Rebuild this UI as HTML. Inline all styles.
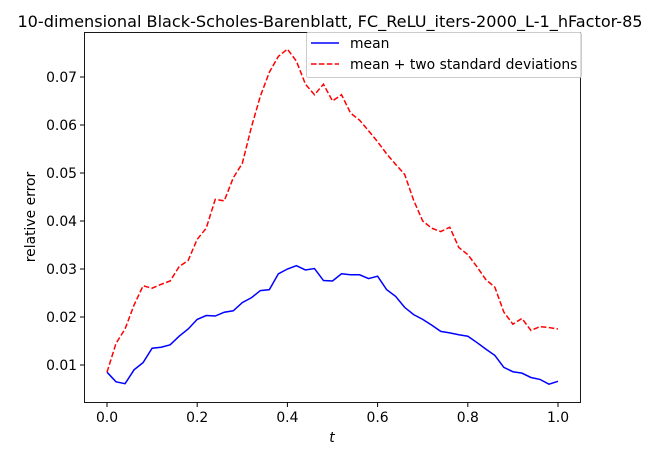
<!DOCTYPE html>
<html><head><meta charset="utf-8"><style>
html,body{margin:0;padding:0;background:#fff;}
svg text{font-family:"DejaVu Sans","Liberation Sans",sans-serif;fill:#000;}
</style></head><body>
<svg id="chart" width="664" height="455" xmlns="http://www.w3.org/2000/svg">
<text x="330" y="27" text-anchor="middle" font-size="16.1">10-dimensional Black-Scholes-Barenblatt, FC_ReLU_iters-2000_L-1_hFactor-85</text>
<path id="meanLine" fill="none" stroke="#0000ff" stroke-width="1.5"/>
<path id="upperLine" fill="none" stroke="#ff0000" stroke-width="1.5" stroke-dasharray="5.5,2.4"/>
<rect x="84.5" y="32.5" width="496" height="370" fill="none" stroke="#000" stroke-width="0.9"/>
<g id="ticks"></g>
<text x="332" y="442" text-anchor="middle" font-size="13.9" font-style="italic">t</text>
<text transform="translate(35,217) rotate(-90)" text-anchor="middle" font-size="13.9">relative error</text>
<g>
<rect x="306.5" y="32.5" width="275" height="45" rx="2" fill="#fff" fill-opacity="0.85" stroke="#ccc"/>
<line x1="311" y1="43" x2="339" y2="43" stroke="#0000ff" stroke-width="1.5"/>
<text x="350" y="48" font-size="13.9">mean</text>
<line x1="311" y1="64" x2="339" y2="64" stroke="#ff0000" stroke-width="1.5" stroke-dasharray="5.5,2.4"/>
<text x="350" y="69" font-size="13.9">mean + two standard deviations</text>
</g>
</svg>
<script>
const tValues = Array.from({length:51},(_, i)=>i*0.02);
const meanValues = [0.0085,0.0065,0.0061,0.009,0.0105,0.0135,0.0137,0.0142,0.016,0.0175,0.0195,0.0203,0.0202,0.021,0.0213,0.023,0.024,0.0255,0.0257,0.029,0.030,0.0307,0.0298,0.0301,0.0276,0.0275,0.029,0.0288,0.0288,0.028,0.0285,0.0257,0.0243,0.022,0.0205,0.0195,0.0183,0.017,0.0167,0.0163,0.016,0.0147,0.0133,0.012,0.0095,0.0086,0.0083,0.0074,0.007,0.006,0.0066];
const upperValues = [0.0085,0.0145,0.0175,0.0225,0.0265,0.026,0.0268,0.0275,0.0305,0.0318,0.0362,0.0385,0.0445,0.0442,0.049,0.052,0.0595,0.066,0.071,0.0743,0.0758,0.0733,0.0685,0.0663,0.0685,0.065,0.0663,0.0625,0.061,0.0588,0.0565,0.054,0.0518,0.0497,0.0443,0.040,0.0385,0.0378,0.0387,0.0345,0.033,0.0305,0.0278,0.0262,0.021,0.0185,0.0197,0.0172,0.018,0.0178,0.0175];
const xTicks = [0,0.2,0.4,0.6,0.8,1.0];
const xTickLabels = ["0.0","0.2","0.4","0.6","0.8","1.0"];
const yTicks = [0.01,0.02,0.03,0.04,0.05,0.06,0.07];
const yTickLabels = ["0.01","0.02","0.03","0.04","0.05","0.06","0.07"];
function xs(v){return 107 + v*451;}
function ys(v){return 365 - (v-0.01)*4800;}
function pathOf(vals){return vals.map((v,i)=>(i?'L':'M')+xs(tValues[i]).toFixed(2)+','+ys(v).toFixed(2)).join(' ');}
document.getElementById('meanLine').setAttribute('d', pathOf(meanValues));
document.getElementById('upperLine').setAttribute('d', pathOf(upperValues));
const NS='http://www.w3.org/2000/svg';
const tg=document.getElementById('ticks');
xTicks.forEach((v,i)=>{
  const x=xs(v);
  const l=document.createElementNS(NS,'line');
  l.setAttribute('x1',x);l.setAttribute('x2',x);l.setAttribute('y1',402.5);l.setAttribute('y2',407);
  l.setAttribute('stroke','#000');
  
  
  tg.appendChild(l);
  const t=document.createElementNS(NS,'text');
  t.setAttribute('x',x);t.setAttribute('y',422);t.setAttribute('text-anchor','middle');t.setAttribute('font-size','13.9');
  t.textContent=xTickLabels[i];
  
  
  tg.appendChild(t);
});
yTicks.forEach((v,i)=>{
  const y=ys(v);
  const l=document.createElementNS(NS,'line');
  l.setAttribute('x1',80);l.setAttribute('x2',84.5);l.setAttribute('y1',y);l.setAttribute('y2',y);
  l.setAttribute('stroke','#000');
  
  
  tg.appendChild(l);
  const t=document.createElementNS(NS,'text');
  t.setAttribute('x',77);t.setAttribute('y',y+5);t.setAttribute('text-anchor','end');t.setAttribute('font-size','13.9');
  t.textContent=yTickLabels[i];
  
  
  tg.appendChild(t);
});
</script>
</body></html>
